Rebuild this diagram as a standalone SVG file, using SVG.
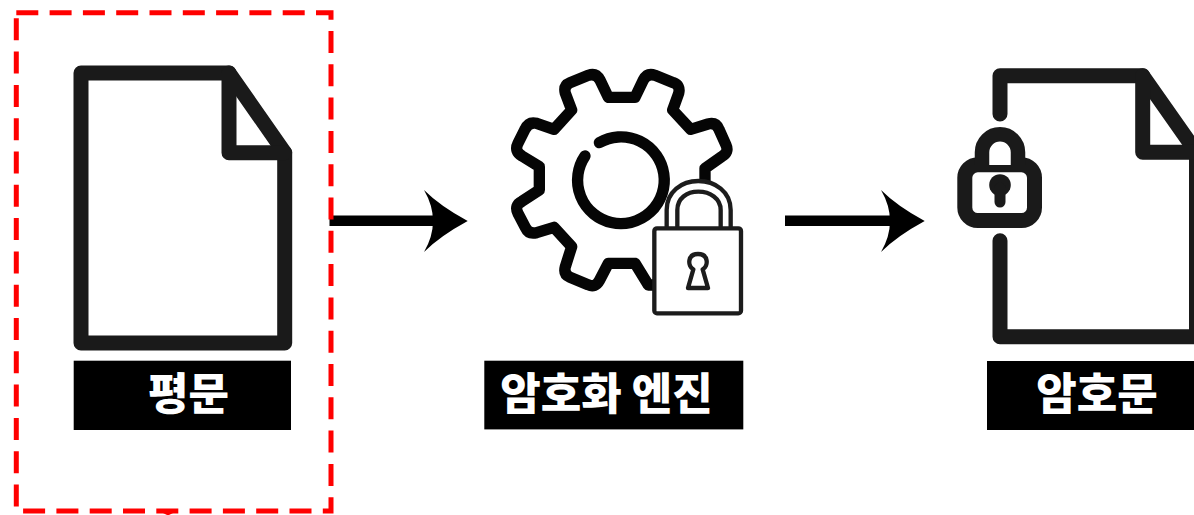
<svg xmlns="http://www.w3.org/2000/svg" width="1194" height="515" viewBox="0 0 1194 515">
<style>
.doc{fill:none;stroke:#1a1a1a;stroke-width:15;stroke-linejoin:round;stroke-linecap:round}
.gear{fill:none;stroke:#050505;stroke-width:34;stroke-linejoin:round;stroke-linecap:round}
.lock{fill:#fff;stroke:#1c1c1c;stroke-width:13;stroke-linejoin:round}
.band{fill:#000}
.label{fill:#fff;font-family:"Noto Sans CJK KR","Noto Sans CJK SC",sans-serif;font-weight:900;font-size:44px;text-anchor:middle}
.shaft{fill:none;stroke:#000;stroke-width:10.5}
.head{fill:#000}
</style>
<rect width="1194" height="515" fill="#fff"/>
<g id="plaintext">
<path class="doc" d="M81 73H229L284.7 152.7V343H81Z"/>
<path class="doc" d="M229 73V152.7H284.7"/>
<rect class="band" x="73.7" y="360.7" width="217.3" height="69.3"/>
<text class="label" x="188.500" y="410">평문</text>
</g>
<g id="engine">
<g transform="translate(480 50) scale(.33333)">
<path class="gear" d="M385 142H465L490 90Q502 68 525 76L580 98Q602 106 596 130L578 180L632 238L684 222Q708 216 717 238L738 285Q748 307 725 320L675 355V400M465 640H385L358 692Q346 714 324 704L270 682Q250 674 256 650L275 590L222 532L170 548Q146 554 136 532L114 490Q102 466 126 454L178 420V350L126 318Q102 304 114 280L135 238Q146 214 170 220L222 238L275 180L256 130Q250 106 270 98L325 76Q348 68 360 90L385 142M465 640L505 705H540"/>
<path class="gear" d="M358 278A130 130 0 1 1 315 318"/>
<path class="lock" d="M560 535V480C560 425 605 393 655 393S752 425 752 480V535"/>
<path class="lock" d="M592 535V480C592 445 620 425 655 425S722 445 722 480V535" />
<rect class="lock" x="523" y="535" width="260" height="255" rx="8"/>
<path class="lock" d="M640 658C622 648 622 612 654 612S686 648 668 658L684 714H624Z"/>
</g>
<rect class="band" x="484.300" y="360.700" width="259" height="68.700"/>
<text class="label" x="606.500" y="410">암호화 엔진</text>
</g>
<g id="ciphertext">
<path class="doc" d="M1000 114V75.800H1142.700L1196.500 152.300V336.700H1000V240.700"/>
<path class="doc" d="M1142.700 75.800V152.300H1196.500"/>
<rect x="964.800" y="164.800" width="69.700" height="55.700" rx="13" fill="#fff" stroke="#1a1a1a" stroke-width="15"/>
<path d="M982 165V152.300A18 18 0 0 1 1018 152.300V165" fill="#fff" stroke="#1a1a1a" stroke-width="14.500"/>
<circle cx="1000" cy="185" r="10.800" fill="#1a1a1a"/>
<path d="M1000 188V202" stroke="#1a1a1a" stroke-width="11" stroke-linecap="round"/>
<rect class="band" x="987" y="361" width="207" height="69"/>
<text class="label" x="1097" y="410">암호문</text>
</g>
<g id="connectors">
<path class="shaft" d="M329.500 220.700H440"/>
<path class="head" d="M424 190Q440 206 467.700 221Q440 236 424 252Q442 221 424 190Z"/>
<path class="shaft" d="M785 220.700H897"/>
<path class="head" d="M881 190Q897 206 924.700 221Q897 236 881 252Q899 221 881 190Z"/>
</g>
<g id="selection">
<rect x="16.300" y="12.700" width="314.700" height="498.300" fill="none" stroke="#f00" stroke-width="5" stroke-dasharray="22 11.300"/>
<path d="M163 513H173L169 515H167Z" fill="#f00"/>
</g>
</svg>
